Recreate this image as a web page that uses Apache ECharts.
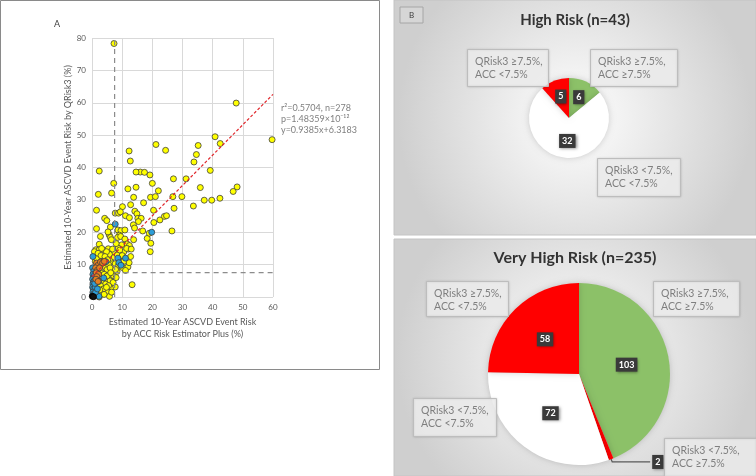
<!DOCTYPE html>
<html>
<head>
    <meta charset="utf-8">
    <title>QRisk3 vs ACC</title>
    <script src="https://cdn.jsdelivr.net/npm/echarts@6/dist/echarts.min.js"></script>
    <style>
        html, body { margin: 0; padding: 0; background: #fff; }
        #chart { width: 756px; height: 476px; }
    </style>
</head>
<body>
<div id="chart"></div>
<script type="text/javascript">
    // ---- panel A: scatter (x = ACC Risk Estimator Plus %, y = QRisk3 %) ----
    var yellowPts = [
        [7.3, 78.3], [47.8, 59.9], [59.7, 48.6], [40.8, 49.5], [42.5, 47.4], [35.2, 46.8], [21.2, 47.1],
        [24.4, 45.3], [12.3, 45.1], [12.7, 42.0], [34.6, 44.0], [33.8, 41.7], [39.2, 39.1], [31.2, 36.5],
        [27.0, 36.5], [35.9, 33.8], [48.1, 34.0], [46.8, 32.6], [33.6, 28.1], [37.2, 29.9], [39.7, 29.9],
        [42.4, 30.5], [29.8, 31.0], [26.8, 31.0], [27.2, 27.4], [26.5, 20.4], [2.4, 38.9], [7.2, 35.1],
        [6.5, 32.1], [2.1, 31.7], [1.5, 26.8], [1.5, 21.1], [2.8, 18.7], [2.4, 16.3], [1.3, 14.6],
        [1.4, 13.0], [11.9, 33.4], [16.0, 38.6], [14.6, 38.6], [17.4, 38.5], [19.2, 37.7], [20.0, 35.1],
        [14.6, 33.9], [13.8, 30.8], [17.1, 29.1], [19.4, 30.8], [21.0, 31.0], [22.0, 32.8], [12.8, 28.5],
        [10.1, 27.9], [7.7, 25.9], [8.8, 25.9], [9.4, 26.3], [11.1, 25.1], [12.4, 24.5], [14.2, 26.5],
        [14.9, 25.7], [15.2, 24.3], [16.3, 24.3], [15.4, 23.3], [20.4, 26.8], [20.5, 23.0], [22.5, 23.8],
        [24.0, 24.9], [24.7, 25.1], [4.2, 24.3], [4.9, 23.6], [6.1, 21.6], [5.7, 19.2], [6.1, 18.4],
        [5.3, 20.1], [6.4, 17.7], [8.6, 20.7], [9.6, 20.5], [9.1, 19.1], [8.5, 18.4], [9.5, 18.7],
        [10.9, 17.9], [11.6, 16.4], [12.4, 15.9], [12.0, 14.8], [10.5, 13.9], [9.8, 16.1], [8.7, 15.1],
        [7.3, 13.6], [13.7, 22.3], [14.1, 21.3], [16.8, 20.4], [18.3, 18.1], [19.0, 19.7], [19.5, 16.6],
        [19.3, 14.0], [13.8, 17.7], [2.4, 14.6], [4.1, 14.4], [5.4, 14.9], [3.5, 12.2], [2.3, 12.1],
        [1.1, 11.0], [2.8, 10.4], [4.2, 9.7], [6.3, 11.1], [7.7, 10.3], [8.8, 9.8], [10.1, 9.1],
        [11.9, 9.3], [12.3, 10.6], [11.1, 8.2], [13.3, 3.8], [7.7, 3.1], [6.1, 2.7], [5.0, 1.7],
        [5.8, 0.2], [2.4, 0.0], [1.8, 2.8], [2.8, 4.8], [4.6, 5.5], [6.1, 6.3], [7.2, 5.9], [8.3, 7.9],
        [1.7, 1.2], [0.9, 2.0], [3.3, 7.0], [6.8, 7.9], [8.9, 11.4], [5.1, 12.4], [10.9, 20.7],
        [0.8, 14.0], [1.5, 12.0], [2.0, 13.5], [3.0, 12.8], [3.5, 11.0], [2.5, 10.0], [4.5, 9.0],
        [5.0, 8.5], [5.5, 10.0], [6.0, 9.0], [6.5, 12.0], [5.8, 13.2], [4.8, 14.0], [3.2, 15.0],
        [6.8, 14.8], [7.4, 12.3], [3.0, 7.5], [4.0, 7.0], [5.0, 6.5], [6.0, 5.0],
        [7.0, 4.5], [3.5, 5.0], [4.5, 4.0], [5.5, 3.5], [2.8, 3.5], [3.8, 2.5],
        [4.8, 3.0], [2.0, 1.8], [3.0, 1.0], [4.0, 0.8], [6.5, 1.5], [2.6, 2.2], [7.2, 6.5],
        [7.8, 8.5], [8.0, 6.0], [6.2, 7.5], [4.3, 12.5], [5.2, 11.5], [8.4, 13.0], [9.2, 14.5],
        [10.5, 11.0], [10.0, 12.8], [12.8, 12.5], [11.5, 15.0], [13.0, 14.8], [8.0, 16.5]
    ];
    var orangePts = [
        [1.5, 10.5], [2.0, 9.8], [1.2, 9.0], [1.8, 8.3], [1.4, 7.5], [2.2, 7.0], [1.6, 6.3], [1.3, 5.5],
        [2.0, 4.8], [2.8, 10.8], [3.5, 10.5], [2.5, 9.0], [4.1, 11.0]
    ];
    var bluePts = [
        [0.3, 12.5], [0.2, 9.0], [0.6, 8.0], [0.3, 7.0], [0.5, 6.0], [0.2, 5.5],
        [0.7, 5.0], [0.4, 4.5], [0.3, 4.0], [0.6, 3.5], [0.2, 3.0], [0.5, 2.5], [0.8, 2.0], [0.3, 1.5],
        [0.6, 1.0], [0.2, 0.5], [1.0, 0.3], [1.5, 0.4], [2.3, 0.2], [1.2, 1.5], [2.2, 4.8],
        [3.9, 5.9], [4.6, 10.9], [7.7, 22.5], [19.8, 20.0], [8.6, 12.0], [8.9, 10.6],
        [11.1, 12.0], [9.6, 9.8], [1.1, 3.0], [0.9, 6.8], [1.8, 2.5], [0.9, 4.2]
    ];
    var blackPts = [[0.1, 0.2], [0.5, 0.1]];

    // regression line end points and 7.5% cut-off lines
    var trendLine = [[0, 6.3], [60, 62.6]];
    var cutVertical = [[7.5, 0], [7.5, 80]];
    var cutHorizontal = [[7.5, 7.5], [60, 7.5]];
    var statLines = ['r\u00b2=0.5704, n=278', 'p=1.48359\u00d710\u207b\u00b9\u00b2', 'y=0.9385x+6.3183'];

    // ---- panel B: pies ----
    var highTitle = 'High Risk (n=43)';
    var highCats = ['QRisk3 \u22657.5%,\nACC \u22657.5%', 'QRisk3 <7.5%,\nACC <7.5%', 'QRisk3 \u22657.5%,\nACC <7.5%'];
    var highVals = [6, 32, 5];
    var highColors = ['#8cc168', '#ffffff', '#ff0000'];

    var vhTitle = 'Very High Risk (n=235)';
    var vhCats = ['QRisk3 \u22657.5%,\nACC \u22657.5%', 'QRisk3 <7.5%,\nACC \u22657.5%', 'QRisk3 <7.5%,\nACC <7.5%', 'QRisk3 \u22657.5%,\nACC <7.5%'];
    var vhVals = [103, 2, 72, 58];
    var vhColors = ['#8cc168', '#ff0000', '#ffffff', '#ff0000'];

    var FONT = 'Lato, "Open Sans", sans-serif';
    var myChart = echarts.init(document.getElementById('chart'));

    function pieData(cats, vals, colors) {
        return cats.map(function (c, i) {
            return { name: c, value: vals[i], itemStyle: { color: colors[i] } };
        });
    }

    var valueLabel = {
        show: true,
        position: 'inside',
        formatter: '{c}',
        color: '#fff',
        fontWeight: 'bold',
        fontSize: 9,
        fontFamily: FONT,
        backgroundColor: '#3a3a3a',
        padding: [3, 3, 2, 3],
        shadowBlur: 3,
        shadowOffsetX: 1,
        shadowOffsetY: 1,
        shadowColor: 'rgba(0,0,0,0.45)'
    };

    var vhData = pieData(vhCats, vhVals, vhColors);
    vhData[1].label = { position: 'outside', distanceToLabelLine: 2 };
    vhData[1].labelLine = { show: true, length: 3, length2: 38, lineStyle: { color: '#595959', width: 1.2 } };

    // callout boxes: [category index, x, y, w, h]
    var highBoxes = [[2, 467, 49, 81, 37], [0, 590, 49, 87, 37], [1, 597, 158, 83, 38]];
    var vhBoxes = [[3, 426, 281, 82, 35], [0, 653, 281, 86, 35], [2, 413, 398, 83, 38], [1, 664, 438, 92, 38]];

    var graphics = [
        { type: 'rect', shape: { x: 0.5, y: 0.5, width: 379, height: 369 }, style: { fill: '#fff', stroke: '#8a8a8a', lineWidth: 1 }, z: -10 },
        { type: 'text', x: 54, y: 20, style: { text: 'A', font: '9px ' + FONT, fill: '#404040' } },
        { type: 'text', x: 281, y: 103, style: { text: statLines.join('\n'), font: '9px ' + FONT, fill: '#7f7f7f', lineHeight: 11 } },
        { type: 'rect', shape: { x: 394, y: 0, width: 362, height: 235 }, z: -10,
          style: { fill: new echarts.graphic.RadialGradient(0.5, 0.5, 0.75, [{ offset: 0, color: '#ffffff' }, { offset: 1, color: '#cfcfcf' }]), stroke: '#c4c4c4' } },
        { type: 'rect', shape: { x: 394, y: 239, width: 362, height: 237 }, z: -10,
          style: { fill: new echarts.graphic.RadialGradient(0.5, 0.5, 0.75, [{ offset: 0, color: '#ffffff' }, { offset: 1, color: '#cfcfcf' }]), stroke: '#c4c4c4' } },
        { type: 'rect', shape: { x: 400, y: 7, width: 23, height: 16 }, style: { fill: '#d6d6d6', stroke: '#a6a6a6' } },
        { type: 'text', x: 411.5, y: 15, style: { text: 'B', font: '8px ' + FONT, fill: '#404040', align: 'center', verticalAlign: 'middle' } },
        { type: 'text', x: 575, y: 20, style: { text: highTitle, font: 'bold 15px ' + FONT, fill: '#333', align: 'center', verticalAlign: 'middle' } },
        { type: 'text', x: 575, y: 258, style: { text: vhTitle, font: 'bold 16px ' + FONT, fill: '#333', align: 'center', verticalAlign: 'middle' } }
    ];

    function addBoxes(boxes, cats) {
        boxes.forEach(function (b) {
            graphics.push({ type: 'rect', z: 5, shape: { x: b[1] + 0.5, y: b[2] + 0.5, width: b[3], height: b[4] },
                style: { fill: 'rgba(240,240,240,0.85)', stroke: '#bdbdbd', lineWidth: 1, shadowBlur: 2, shadowColor: 'rgba(0,0,0,0.15)' } });
            graphics.push({ type: 'text', z: 6, x: b[1] + 8, y: b[2] + 6,
                style: { text: cats[b[0]], font: '10.5px ' + FONT, fill: '#7f7f7f', lineHeight: 13 } });
        });
    }
    addBoxes(highBoxes, highCats);
    addBoxes(vhBoxes, vhCats);

    function scatter(data, color, border) {
        return {
            type: 'scatter', data: data, symbolSize: 6,
            itemStyle: { color: color, borderColor: border, borderWidth: 0.8, opacity: 1 }
        };
    }

    var option = {
        animation: false,
        textStyle: { fontFamily: FONT },
        graphic: graphics,
        grid: { left: 92, top: 38, width: 181, height: 259 },
        xAxis: {
            type: 'value', min: 0, max: 60, interval: 10,
            name: 'Estimated 10-Year ASCVD Event Risk\nby ACC Risk Estimator Plus (%)',
            nameLocation: 'middle', nameGap: 17,
            nameTextStyle: { color: '#595959', fontSize: 9, lineHeight: 12, verticalAlign: 'top' },
            axisLine: { show: false }, axisTick: { show: false },
            axisLabel: { color: '#595959', fontSize: 8, margin: 6 },
            splitLine: { lineStyle: { color: '#d9d9d9' } }
        },
        yAxis: {
            type: 'value', min: 0, max: 80, interval: 10,
            name: 'Estimated 10-Year ASCVD Event Risk by QRisk3 (%)',
            nameLocation: 'middle', nameGap: 17,
            nameTextStyle: { color: '#595959', fontSize: 9 },
            axisLine: { show: false }, axisTick: { show: false },
            axisLabel: { color: '#595959', fontSize: 8, margin: 6 },
            splitLine: { lineStyle: { color: '#d9d9d9' } }
        },
        series: [
            { type: 'line', data: cutVertical, symbol: 'none', lineStyle: { color: '#8c8c8c', width: 1.2, type: [5, 4] }, silent: true },
            { type: 'line', data: cutHorizontal, symbol: 'none', lineStyle: { color: '#8c8c8c', width: 1.2, type: [5, 4] }, silent: true },
            scatter(yellowPts, '#ffff00', '#3d3d3d'),
            scatter(bluePts, '#2c9ed8', '#3d3d3d'),
            scatter(orangePts, '#e8801f', '#3d3d3d'),
            scatter(blackPts, '#111111', '#000000'),
            { type: 'line', data: trendLine, symbol: 'none', z: 4, lineStyle: { color: '#e0262b', width: 1.2, type: [3, 2] }, silent: true },
            {
                type: 'pie', center: [569, 118], radius: 40, startAngle: 90, clockwise: true,
                data: pieData(highCats, highVals, highColors),
                label: valueLabel, labelLine: { show: false },
                itemStyle: { shadowBlur: 6, shadowColor: 'rgba(0,0,0,0.18)' },
                emphasis: { disabled: true }
            },
            {
                type: 'pie', center: [579, 374], radius: 91, startAngle: 90, clockwise: true,
                data: vhData,
                label: valueLabel, labelLine: { show: false },
                itemStyle: { shadowBlur: 6, shadowColor: 'rgba(0,0,0,0.18)' },
                emphasis: { disabled: true }
            }
        ]
    };
    myChart.setOption(option);
</script>
</body>
</html>
